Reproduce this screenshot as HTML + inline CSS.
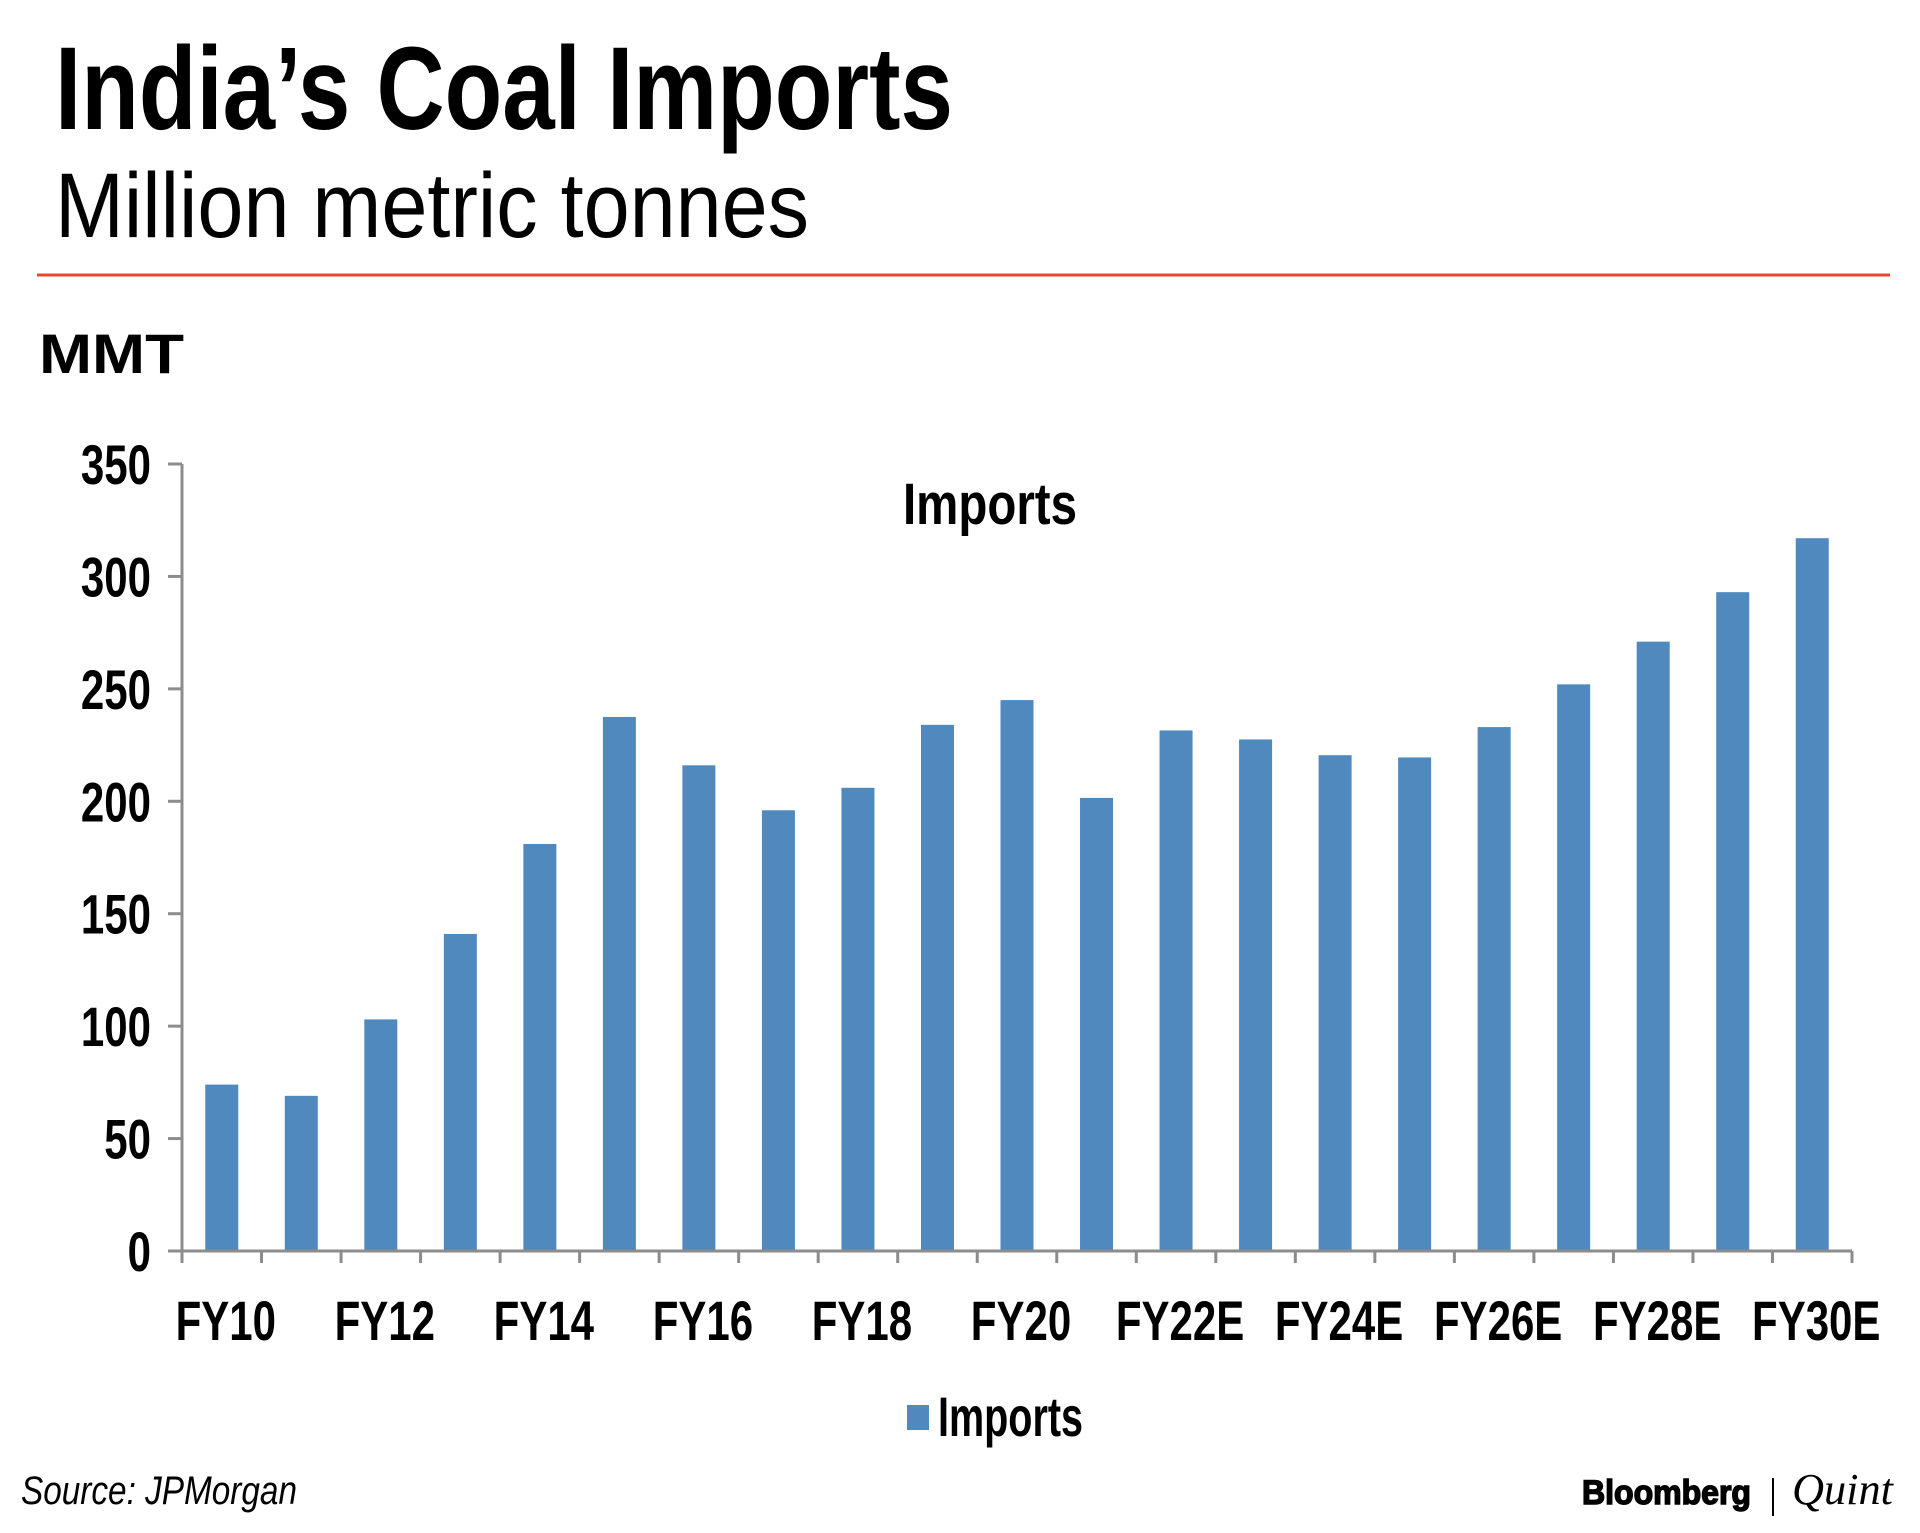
<!DOCTYPE html>
<html><head><meta charset="utf-8"><style>
html,body{margin:0;padding:0;background:#fff;width:1920px;height:1533px;overflow:hidden}
svg text{font-family:"Liberation Sans",sans-serif}
</style></head><body>
<svg id="chart" width="1920" height="1533" viewBox="0 0 1920 1533" xmlns="http://www.w3.org/2000/svg">
<text x="55" y="129" font-size="118" font-weight="bold" textLength="898" lengthAdjust="spacingAndGlyphs">India’s Coal Imports</text>
<text x="55" y="237" font-size="92" textLength="754" lengthAdjust="spacingAndGlyphs">Million metric tonnes</text>
<line x1="37" y1="275" x2="1890" y2="275" stroke="#e8492c" stroke-width="3"/>
<text x="39" y="373" font-size="56" font-weight="bold" textLength="145" lengthAdjust="spacingAndGlyphs">MMT</text>
<text x="903" y="524" font-size="58" font-weight="bold" textLength="174" lengthAdjust="spacingAndGlyphs">Imports</text>
<g id="yaxis"></g>
<g id="bars"></g>
<g id="xaxis"></g>
<rect x="907" y="1405" width="22" height="25" fill="#4f89bd"/>
<text x="938" y="1436" font-size="56" font-weight="bold" textLength="145" lengthAdjust="spacingAndGlyphs">Imports</text>
<text x="21" y="1504" font-size="40" font-style="italic" textLength="276" lengthAdjust="spacingAndGlyphs">Source: JPMorgan</text>
<text x="1582" y="1504" font-size="34" font-weight="bold" stroke="#000" stroke-width="1.5" textLength="169" lengthAdjust="spacingAndGlyphs">Bloomberg</text>
<line x1="1773" y1="1478" x2="1773" y2="1516" stroke="#000" stroke-width="2"/>
<text x="1792" y="1504" font-size="44" font-style="italic" style="font-family:'Liberation Serif',serif" textLength="101" lengthAdjust="spacingAndGlyphs">Quint</text>
</svg>
<script>
const categories=["FY10","FY11","FY12","FY13","FY14","FY15","FY16","FY17","FY18","FY19","FY20","FY21","FY22E","FY23E","FY24E","FY25E","FY26E","FY27E","FY28E","FY29E","FY30E"];
const imports=[74,69,103,141,181,237.5,216,196,206,234,245,201.5,231.5,227.5,220.5,219.5,233,252,271,293,317];
const yTicks=[0,50,100,150,200,250,300,350];
const xLabels=["FY10","","FY12","","FY14","","FY16","","FY18","","FY20","","FY22E","","FY24E","","FY26E","","FY28E","","FY30E"];

const NS="http://www.w3.org/2000/svg";
const X0=182,X1=1852,Y0=1251,Y1=464,YMAX=350;
const slot=(X1-X0)/categories.length;
const y=v=>Y0-(v/YMAX)*(Y0-Y1);
const xc=i=>X0+slot*(i+0.5);
function mk(tag,attrs,parent){const e=document.createElementNS(NS,tag);for(const k in attrs)e.setAttribute(k,attrs[k]);parent.appendChild(e);return e;}
const ya=document.getElementById('yaxis'),xa=document.getElementById('xaxis'),bg=document.getElementById('bars');
let l=mk('line',{x1:X0,y1:Y1,x2:X0,y2:Y0+12,stroke:'#8c8c8c','stroke-width':3},ya);


yTicks.forEach(t=>{
  const tk=mk('line',{x1:X0-14,y1:y(t),x2:X0,y2:y(t),stroke:'#8c8c8c','stroke-width':3},ya);
  
  
  const tx=mk('text',{x:151,y:y(t)+20,'font-size':56,'font-weight':'bold','text-anchor':'end',transform:`translate(151 0) scale(0.75 1) translate(-151 0)`},ya);
  tx.textContent=String(t);
  
  
});
imports.forEach((v,i)=>{
  const w=33;
  const r=mk('rect',{x:xc(i)-w/2,y:y(v),width:w,height:Y0-y(v),fill:'#4f89bd'},bg);
  
  
});
l=mk('line',{x1:X0,y1:Y0,x2:X1,y2:Y0,stroke:'#8c8c8c','stroke-width':3},xa);


for(let i=0;i<=categories.length;i++){
  const tk=mk('line',{x1:X0+slot*i,y1:Y0,x2:X0+slot*i,y2:Y0+12,stroke:'#8c8c8c','stroke-width':3},xa);
  
  
}
xLabels.forEach((s,i)=>{
  if(!s)return;
  const cx=xc(i)+4;
  const tx=mk('text',{x:cx,y:1340,'font-size':56,'font-weight':'bold','text-anchor':'middle',transform:`translate(${cx} 0) scale(0.75 1) translate(${-cx} 0)`},xa);
  tx.textContent=s;
  
  
});
</script>
</body></html>
